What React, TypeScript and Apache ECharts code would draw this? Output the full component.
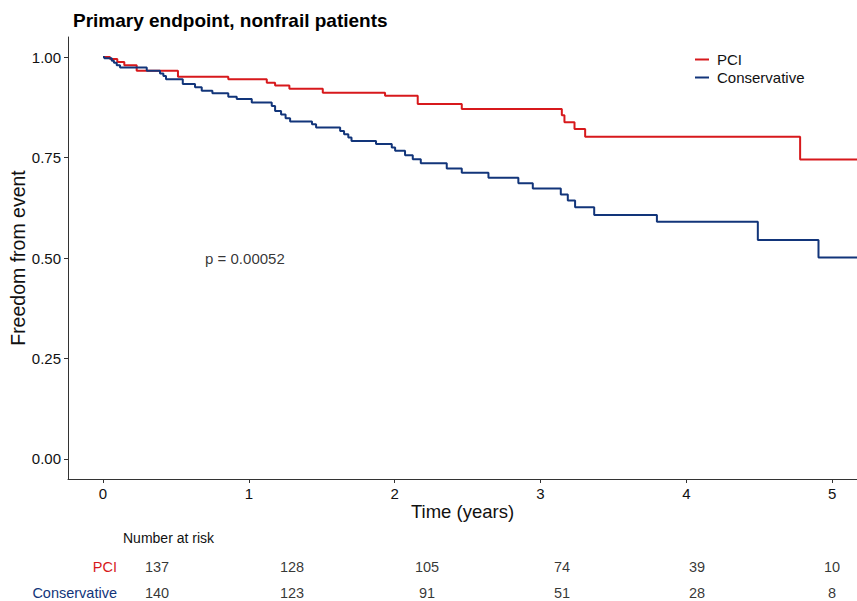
import React, { useEffect, useRef } from "react";
import * as echarts from "echarts";

const titleText = "Primary endpoint, nonfrail patients";
const seriesNames = ["PCI", "Conservative"];
const colors = ["#D7191C", "#12357A"];

const pciTimes = [0, 0.048, 0.098, 0.146, 0.231, 0.514, 0.859, 1.123, 1.18, 1.278, 1.507, 1.934, 2.158, 2.46, 3.146, 3.164, 3.233, 3.306, 4.78];
const pciSurv = [1, 0.995, 0.988, 0.98, 0.966, 0.951, 0.945, 0.936, 0.929, 0.921, 0.911, 0.904, 0.883, 0.871, 0.855, 0.838, 0.821, 0.802, 0.745];

const conTimes = [0, 0.009, 0.06, 0.075, 0.094, 0.117, 0.3, 0.391, 0.414, 0.432, 0.547, 0.631, 0.677, 0.75, 0.859, 0.917, 1.02, 1.157, 1.18, 1.221, 1.252, 1.283, 1.433, 1.461, 1.626, 1.653, 1.682, 1.704, 1.872, 1.98, 2.003, 2.071, 2.124, 2.179, 2.357, 2.46, 2.643, 2.848, 2.947, 3.139, 3.187, 3.237, 3.368, 3.798, 4.49, 4.906];
const conSurv = [1, 0.997, 0.991, 0.986, 0.98, 0.974, 0.966, 0.959, 0.953, 0.945, 0.933, 0.925, 0.916, 0.91, 0.901, 0.896, 0.887, 0.878, 0.866, 0.857, 0.848, 0.84, 0.833, 0.825, 0.816, 0.808, 0.8, 0.791, 0.784, 0.775, 0.767, 0.756, 0.746, 0.736, 0.723, 0.712, 0.7, 0.686, 0.673, 0.658, 0.643, 0.626, 0.607, 0.59, 0.545, 0.501];

const xMin = -0.24;
const xMax = 5.17;
const yMin = -0.05;
const yMax = 1.05;
const xTicks = [0, 1, 2, 3, 4, 5];
const yTicks = [0, 0.25, 0.5, 0.75, 1];

const pValueText = "p = 0.00052";
const pValueCoord = [0.7, 0.5];

const riskTimes = [0, 1, 2, 3, 4, 5];
const pciRisk = [137, 128, 105, 74, 39, 10];
const conRisk = [140, 123, 91, 51, 28, 8];
const riskRows = ["Conservative", "PCI"];

const FONT = "'Liberation Sans', Arial, Helvetica, sans-serif";
const TXT = "#111111";
const AX = "#333333";

function kmData(times: number[], surv: number[]) {
  const d = times.map((t, i) => [t, surv[i]]);
  d.push([xMax, surv[surv.length - 1]]);
  return d;
}

export default function App() {
  const ref = useRef<HTMLDivElement>(null);
  useEffect(() => {
    if (!ref.current) return;
    const chart = echarts.init(ref.current, null, { renderer: "svg" });
    chart.setOption({
      animation: false,
      textStyle: { fontFamily: FONT },
      title: [
        {
          text: titleText,
          left: 73,
          top: 11,
          padding: 0,
          textStyle: { fontFamily: FONT, fontSize: 19, fontWeight: "bold", color: "#000" },
        },
        {
          text: "Number at risk",
          left: 123,
          top: 531,
          padding: 0,
          textStyle: { fontFamily: FONT, fontSize: 14, fontWeight: "normal", color: TXT },
        },
      ],
      legend: {
        data: seriesNames,
        orient: "vertical",
        left: 695,
        top: 52,
        padding: 0,
        icon: "rect",
        itemWidth: 14,
        itemHeight: 2,
        itemGap: 3,
        textStyle: { fontFamily: FONT, fontSize: 15, color: TXT, lineHeight: 15, padding: [0, 0, 0, 3] },
      },
      grid: [
        { left: 68, right: 0, top: 37, bottom: 122, outerBoundsMode: "none" },
        { left: 157, width: 675, top: 554, height: 52, outerBoundsMode: "none" },
      ],
      xAxis: [
        {
          type: "value",
          gridIndex: 0,
          min: xMin,
          max: xMax,
          name: "Time (years)",
          nameLocation: "middle",
          nameGap: 23,
          nameMoveOverlap: false,
          nameTextStyle: { fontFamily: FONT, fontSize: 18.5, color: TXT },
          axisLine: { show: true, onZero: false, lineStyle: { color: AX, width: 1 } },
          axisTick: { show: true, length: 4, lineStyle: { color: AX }, customValues: xTicks },
          axisLabel: { fontFamily: FONT, fontSize: 15, color: TXT, margin: 7, customValues: xTicks, formatter: (v: number) => String(v) },
          splitLine: { show: false },
        },
        { type: "value", gridIndex: 1, min: 0, max: 5, show: false },
      ],
      yAxis: [
        {
          type: "value",
          gridIndex: 0,
          min: yMin,
          max: yMax,
          name: "Freedom from event",
          nameLocation: "middle",
          nameGap: 40,
          nameRotate: 90,
          nameMoveOverlap: false,
          nameTextStyle: { fontFamily: FONT, fontSize: 19.5, color: TXT },
          axisLine: { show: true, onZero: false, lineStyle: { color: AX, width: 1 } },
          axisTick: { show: true, length: 4, lineStyle: { color: AX }, customValues: yTicks },
          axisLabel: { fontFamily: FONT, fontSize: 15, color: TXT, margin: 7, customValues: yTicks, formatter: (v: number) => v.toFixed(2) },
          splitLine: { show: false },
        },
        {
          type: "category",
          gridIndex: 1,
          data: riskRows,
          axisLine: { show: false },
          axisTick: { show: false },
          splitLine: { show: false },
          axisLabel: {
            fontFamily: FONT,
            fontSize: 14.5,
            margin: 40,
            color: (v: string) => (v === "PCI" ? colors[0] : colors[1]),
          },
        },
      ],
      series: [
        {
          name: seriesNames[0],
          type: "line",
          step: "end",
          xAxisIndex: 0,
          yAxisIndex: 0,
          data: kmData(pciTimes, pciSurv),
          showSymbol: false,
          symbol: "none",
          lineStyle: { color: colors[0], width: 2 },
          itemStyle: { color: colors[0] },
        },
        {
          name: seriesNames[1],
          type: "line",
          step: "end",
          xAxisIndex: 0,
          yAxisIndex: 0,
          data: kmData(conTimes, conSurv),
          showSymbol: false,
          symbol: "none",
          lineStyle: { color: colors[1], width: 2 },
          itemStyle: { color: colors[1] },
        },
        {
          type: "scatter",
          xAxisIndex: 0,
          yAxisIndex: 0,
          symbolSize: 0,
          silent: true,
          data: [pValueCoord],
          label: {
            show: true,
            position: "inside",
            align: "left",
            formatter: () => pValueText,
            fontFamily: FONT,
            fontSize: 15,
            color: "#000",
          },
        },
        {
          type: "scatter",
          xAxisIndex: 1,
          yAxisIndex: 1,
          symbolSize: 0,
          silent: true,
          data: riskTimes.map((t, i) => [t, "PCI", pciRisk[i]]),
          label: { show: true, position: "inside", formatter: (p: any) => String(p.value[2]), fontFamily: FONT, fontSize: 14.5, color: "#000" },
        },
        {
          type: "scatter",
          xAxisIndex: 1,
          yAxisIndex: 1,
          symbolSize: 0,
          silent: true,
          data: riskTimes.map((t, i) => [t, "Conservative", conRisk[i]]),
          label: { show: true, position: "inside", formatter: (p: any) => String(p.value[2]), fontFamily: FONT, fontSize: 14.5, color: "#000" },
        },
      ],
    });
    return () => chart.dispose();
  }, []);
  return <div ref={ref} style={{ position: "absolute", left: 0, top: 0, width: 857, height: 601 }} />;
}
